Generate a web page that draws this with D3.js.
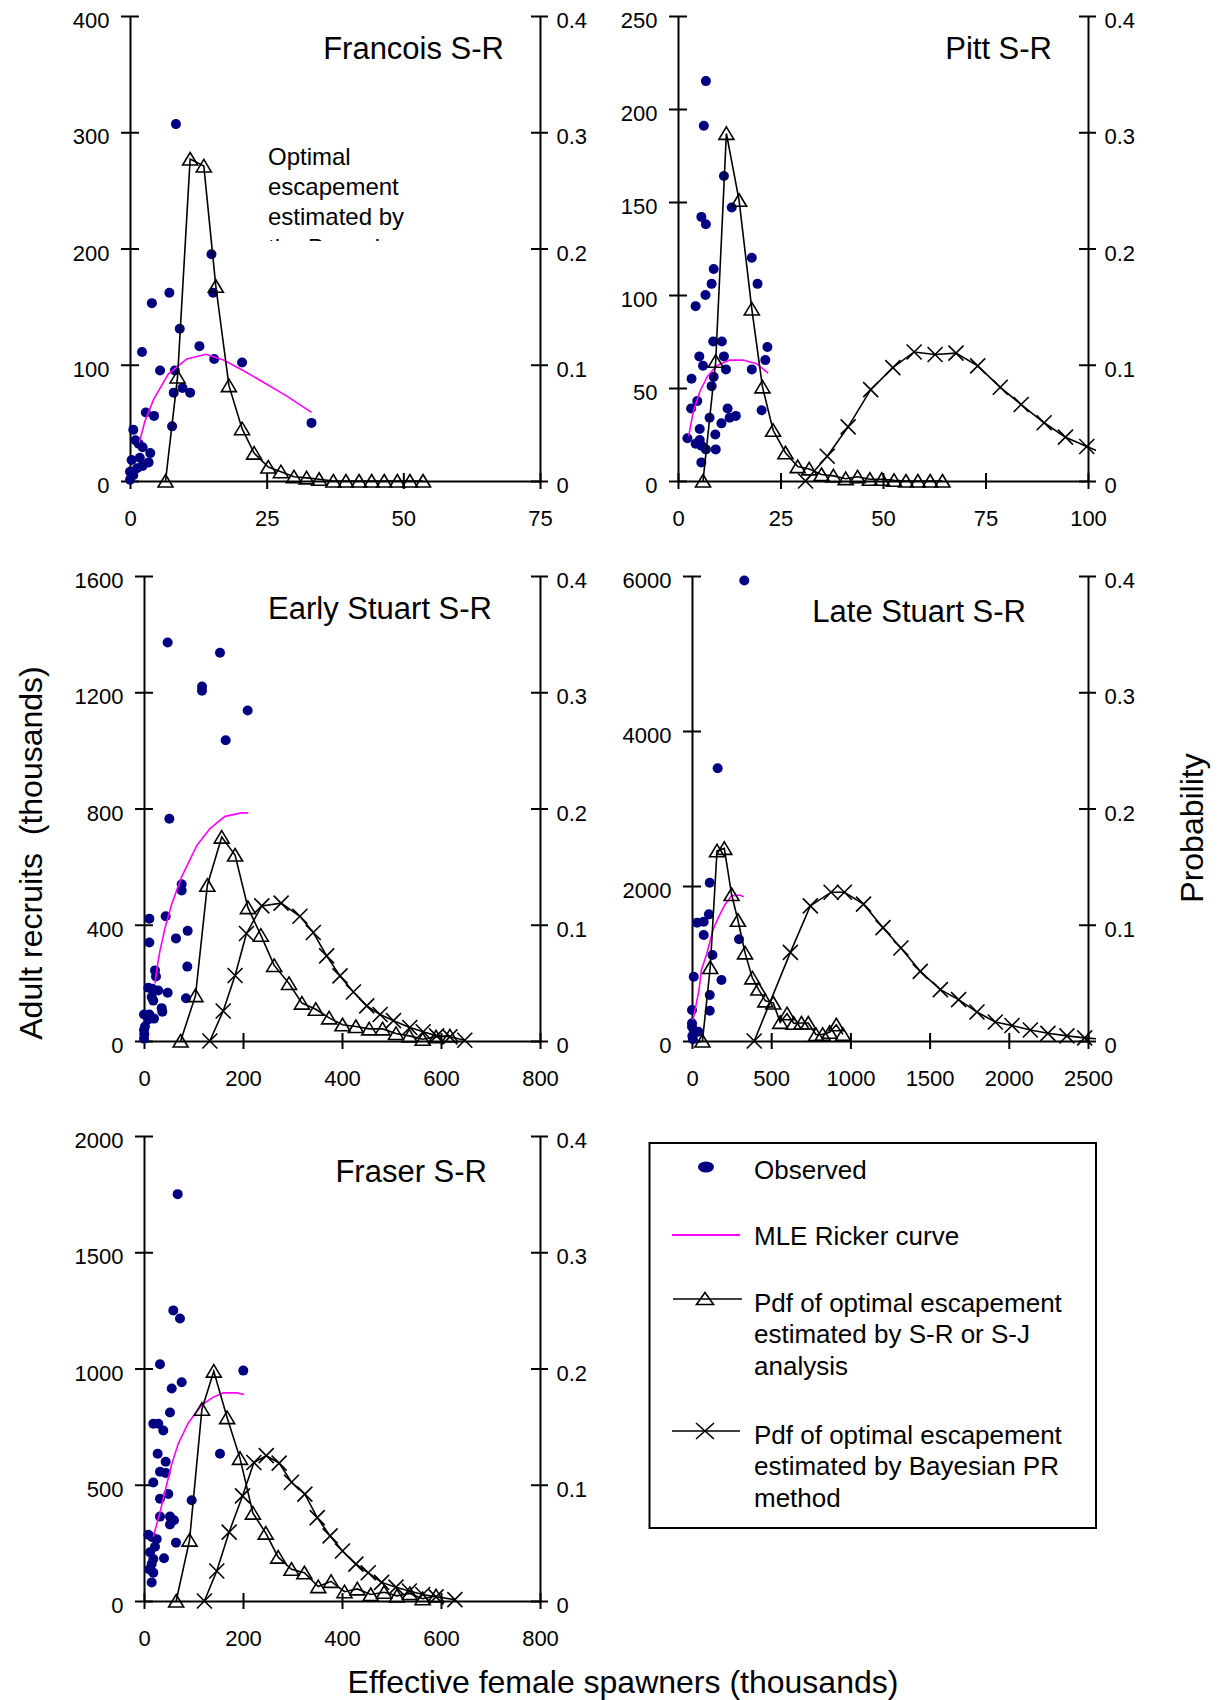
<!DOCTYPE html>
<html>
<head>
<meta charset="utf-8">
<script src="https://cdn.jsdelivr.net/npm/d3@7"></script>
<style>
  body { margin: 0; background: #fff; }
  svg { display: block; font-family: "Liberation Sans", Arial, sans-serif; }
</style>
</head>
<body>
<div id="chart"></div>
<script>
// ---- data (thousands of fish / probability) ----
const probTicks = [0, 0.1, 0.2, 0.3, 0.4];

// Francois
const francoisXTicks = [0, 25, 50, 75];
const francoisYTicks = [0, 100, 200, 300, 400];
const francoisObsS = [8.4, 4.0, 7.2, 9.1, 14.9, 15.2, 2.2, 12.7, 15.4, 20.5, 5.5, 8.2, 8.0, 9.6, 11.0, 7.7, 2.9, 4.4, 33.2, 0.6, 1.0, 1.6, 2.3, 3.7, 1.8, 0.3, 3.4, 2.3, 1.3, 0.0, 0.6, 0.0];
const francoisObsR = [307, 153, 162, 131, 195, 162, 111, 116, 105, 102, 95, 95, 76, 80, 76, 47, 59, 56, 50, 44, 35, 32, 29, 24, 20, 18, 16, 13, 11, 8, 5, 1];
const francoisRickerS = [1.7, 2.7, 4.3, 7.0, 10.4, 13.9, 17.1, 20.7, 24.4, 28.7, 33.2];
const francoisRickerR = [33, 51, 70, 92, 105, 109, 104, 95, 85, 73, 59];
const francoisSrS = [6.5, 8.7, 11.0, 13.5, 15.7, 18.1, 20.5, 22.7, 25.3, 27.6, 30.0, 32.3, 34.6, 37.2, 39.5, 41.9, 44.2, 46.5, 48.9, 51.2, 53.6];
const francoisSrP = [0, 0.0895, 0.277, 0.271, 0.1675, 0.082, 0.045, 0.024, 0.012, 0.008, 0.0036, 0.0027, 0.0015, 0, 0, 0, 0, 0, 0, 0, 0];

// Pitt
const pittXTicks = [0, 25, 50, 75, 100];
const pittYTicks = [0, 50, 100, 150, 200, 250];
const pittObsS = [6.8, 6.3, 11.2, 5.7, 6.8, 13.1, 18.0, 8.7, 8.2, 19.4, 6.7, 4.3, 8.6, 10.7, 21.8, 5.2, 11.2, 21.3, 6.1, 11.7, 18.0, 8.7, 3.3, 8.2, 4.7, 20.4, 3.2, 12.1, 7.7, 10.6, 12.6, 14.1, 5.3, 9.1, 2.3, 5.3, 4.3, 5.7, 6.8, 9.2, 5.7];
const pittObsR = [215, 191, 164, 142, 138, 147, 120, 114, 106, 106, 100, 94, 75, 75, 72, 67, 67, 65, 62, 60, 60, 56, 55, 51, 43, 38, 39, 39, 34, 31, 34, 35, 28, 25, 23, 22, 20, 19, 17, 17, 10];
const pittRickerS = [2.6, 3.7, 5.3, 7.1, 9.4, 12.6, 15.9, 19.2, 22.0];
const pittRickerR = [24, 37, 48, 56, 62, 65, 65, 63, 58];
const pittSrS = [6.1, 9.2, 11.8, 14.9, 18.0, 20.6, 23.2, 26.2, 29.2, 32.0, 35.0, 37.9, 40.9, 43.8, 46.8, 49.7, 52.7, 55.6, 58.5, 61.5, 64.5];
const pittSrP = [0, 0.103, 0.299, 0.2415, 0.148, 0.081, 0.0436, 0.0243, 0.0124, 0.0104, 0.0056, 0.0044, 0.002, 0.0036, 0.0015, 0.0015, 0.0006, 0, 0, 0, 0];
const pittBayesS = [31.1, 36.4, 41.5, 47.0, 52.4, 57.6, 62.7, 67.8, 73.1, 78.6, 83.7, 89.3, 94.5, 99.7, 104.9];
const pittBayesP = [0, 0.0213, 0.0466, 0.0786, 0.0975, 0.111, 0.1088, 0.11, 0.099, 0.0806, 0.0658, 0.0501, 0.0377, 0.0297, 0.022];

// Early Stuart
const earlyXTicks = [0, 200, 400, 600, 800];
const earlyYTicks = [0, 400, 800, 1200, 1600];
const earlyObsS = [47.8, 153.5, 117.2, 117.2, 209.4, 165, 51.2, 76.1, 76.1, 10.8, 43.8, 10.8, 64.6, 88.2, 87.5, 22.2, 24.2, 8.7, 16.8, 28.9, 47.8, 15.5, 18.8, 84.8, 0, 10.8, 35.7, 37, 20.2, 8.7, 2, 0, 0.6, 0];
const earlyObsR = [1371, 1336, 1220, 1205, 1137, 1035, 765, 539, 518, 421, 429, 339, 353, 379, 256, 243, 222, 183, 180, 174, 166, 151, 139, 147, 91, 91, 113, 101, 77, 74, 50, 38, 23, 8];
const earlyRickerS = [22.2, 26.9, 32.3, 42.4, 56, 76.1, 106.5, 133.3, 163.6, 180.5, 197.4, 210.7];
const earlyRickerR = [198, 257, 311, 388, 471, 565, 672, 731, 773, 779, 785, 785];
const earlySrS = [74, 104, 128, 157, 184, 210, 236, 263, 293, 319, 347, 374, 401, 428, 455, 482, 509, 536, 563, 590, 618];
const earlySrP = [0, 0.039, 0.134, 0.1754, 0.16, 0.1147, 0.091, 0.065, 0.0495, 0.0326, 0.0273, 0.0199, 0.014, 0.0125, 0.0104, 0.0104, 0.0065, 0.0044, 0.0015, 0.0036, 0.0044];
const earlyBayesS = [133, 160, 184, 207, 238, 277, 315, 342, 369, 396, 423, 450, 477, 504, 537, 564, 591, 618, 648];
const earlyBayesP = [0, 0.0258, 0.0563, 0.0925, 0.1162, 0.1186, 0.1073, 0.0933, 0.0732, 0.056, 0.0421, 0.0302, 0.0228, 0.0175, 0.0116, 0.008, 0.0044, 0.0036, 0.0006];

// Late Stuart
const lateXTicks = [0, 500, 1000, 1500, 2000, 2500];
const lateYTicks = [0, 2000, 4000, 6000];
const lateObsS = [330, 162, 112, 107, 32, 74, 74, 297, 129, 11, 186, 112, 112, 0, 0, 0, 13, 40, 2, 6];
const lateObsR = [5943, 3520, 2043, 1634, 1527, 1540, 1368, 1312, 1110, 830, 787, 594, 391, 400, 228, 185, 120, 120, 65, 22];
const lateRickerS = [6.3, 23.4, 44.2, 59.3, 90.9, 132.6, 164.1, 206.4, 248.7, 301, 326.4];
const lateRickerR = [271, 443, 658, 916, 1110, 1432, 1583, 1755, 1871, 1884, 1862];
const lateSrS = [66, 115, 158, 204, 250, 290, 335, 381, 419, 463, 513, 557, 600, 642, 691, 734, 783, 825, 869, 911, 953];
const lateSrP = [0, 0.0632, 0.1636, 0.1657, 0.126, 0.1039, 0.0758, 0.0543, 0.0447, 0.0345, 0.0327, 0.016, 0.0235, 0.0153, 0.0155, 0.0155, 0.0055, 0.0057, 0.0075, 0.014, 0.0057];
const lateBayesS = [393, 621, 747, 878, 962, 1083, 1206, 1319, 1441, 1568, 1683, 1799, 1915, 2020, 2136, 2247, 2367, 2479, 2600];
const lateBayesP = [0, 0.0762, 0.1162, 0.128, 0.128, 0.1177, 0.0975, 0.08, 0.0599, 0.0442, 0.0356, 0.0249, 0.0163, 0.0133, 0.0095, 0.0066, 0.0044, 0.0027, 0.0015];

// Fraser
const fraserXTicks = [0, 200, 400, 600, 800];
const fraserYTicks = [0, 500, 1000, 1500, 2000];
const fraserObsS = [68, 59.2, 72.7, 32.3, 200.6, 76.1, 56, 52.5, 18.8, 28.9, 39, 27.6, 153.5, 43.8, 32.3, 43.8, 18.8, 32.3, 49.1, 96.3, 32.3, 52.5, 60.6, 52.5, 64.6, 8.7, 16.8, 25.6, 22.2, 12.1, 40.4, 18.8, 15.5, 10.8, 18.8, 15.5];
const fraserObsR = [1750, 1250, 1215, 1018, 991, 941, 914, 811, 762, 762, 733, 633, 633, 599, 556, 551, 510, 440, 460, 433, 363, 363, 347, 329, 251, 285, 274, 266, 233, 210, 184, 181, 159, 136, 122, 80];
const fraserRickerS = [18.8, 32.3, 45.8, 56, 69.3, 89.5, 116.5, 140, 160.2, 187.3, 202];
const fraserRickerR = [277, 381, 500, 588, 677, 766, 843, 877, 895, 895, 888];
const fraserSrS = [65, 92, 117, 141, 168, 194, 220, 246, 271, 298, 324, 352, 378, 405, 431, 458, 485, 511, 537, 563, 590];
const fraserSrP = [0, 0.0524, 0.165, 0.1977, 0.1577, 0.1227, 0.0756, 0.0584, 0.0377, 0.0273, 0.0243, 0.0124, 0.0169, 0.008, 0.0104, 0.0056, 0.0075, 0.0044, 0.0065, 0.002, 0.0044];
const fraserBayesS = [122, 147, 172, 199, 222, 247, 273, 298, 325, 350, 376, 401, 428, 453, 480, 509, 536, 563, 590, 628];
const fraserBayesP = [0, 0.0258, 0.0593, 0.0904, 0.1191, 0.125, 0.1186, 0.1022, 0.0919, 0.0717, 0.056, 0.043, 0.0317, 0.0243, 0.016, 0.0119, 0.0086, 0.0056, 0.0036, 0.0012];

const legendLabels = [
    ["Observed"],
    ["MLE Ricker curve"],
    ["Pdf of optimal escapement", "estimated by S-R or S-J", "analysis"],
    ["Pdf of optimal escapement", "estimated by Bayesian PR", "method"]
];

// ---- layout ----
const W = 1222, H = 1700;
const NAVY = "#000080", MAGENTA = "#ff00ff";
const TICK_FONT = 22;

const zip = (a, b) => a.map((v, i) => [v, b[i]]);

const panels = [
    { id: "fr", title: "Francois S-R", left: 130, right: 540, top: 16, bottom: 481, titleX: 504, titleY: 59,
      xTicks: francoisXTicks, yTicks: francoisYTicks,
      obs: zip(francoisObsS, francoisObsR), ricker: zip(francoisRickerS, francoisRickerR),
      sr: zip(francoisSrS, francoisSrP), bayes: null },
    { id: "pi", title: "Pitt S-R", left: 678, right: 1088, top: 16, bottom: 481, titleX: 1052, titleY: 59,
      xTicks: pittXTicks, yTicks: pittYTicks,
      obs: zip(pittObsS, pittObsR), ricker: zip(pittRickerS, pittRickerR),
      sr: zip(pittSrS, pittSrP), bayes: zip(pittBayesS, pittBayesP) },
    { id: "es", title: "Early Stuart S-R", left: 144, right: 540, top: 576, bottom: 1041, titleX: 492, titleY: 619,
      xTicks: earlyXTicks, yTicks: earlyYTicks,
      obs: zip(earlyObsS, earlyObsR), ricker: zip(earlyRickerS, earlyRickerR),
      sr: zip(earlySrS, earlySrP), bayes: zip(earlyBayesS, earlyBayesP) },
    { id: "ls", title: "Late Stuart S-R", left: 692, right: 1088, top: 576, bottom: 1041, titleX: 1026, titleY: 622,
      xTicks: lateXTicks, yTicks: lateYTicks,
      obs: zip(lateObsS, lateObsR), ricker: zip(lateRickerS, lateRickerR),
      sr: zip(lateSrS, lateSrP), bayes: zip(lateBayesS, lateBayesP) },
    { id: "fs", title: "Fraser S-R", left: 144, right: 540, top: 1136, bottom: 1601, titleX: 487, titleY: 1182,
      xTicks: fraserXTicks, yTicks: fraserYTicks,
      obs: zip(fraserObsS, fraserObsR), ricker: zip(fraserRickerS, fraserRickerR),
      sr: zip(fraserSrS, fraserSrP), bayes: zip(fraserBayesS, fraserBayesP) }
];

const triPath = "M0,-6.5L7.5,6L-7.5,6Z";
const crossPath = "M-7.5,-7.5L7.5,7.5M-7.5,7.5L7.5,-7.5";

const svg = d3.select("#chart").append("svg")
    .attr("width", W)
    .attr("height", H)
    .attr("viewBox", `0 0 ${W} ${H}`);

svg.append("rect").attr("width", W).attr("height", H).attr("fill", "#fff");

const defs = svg.append("defs");

function styleAxis(g) {
    g.selectAll(".domain").attr("stroke", "#000").attr("stroke-width", 2);
    g.selectAll(".tick line").attr("stroke", "#000").attr("stroke-width", 2);
    g.selectAll(".tick text")
        .attr("fill", "#000")
        .attr("font-size", TICK_FONT)
        .attr("font-family", '"Liberation Sans", Arial, sans-serif');
}

function drawPanel(p) {
    const x = d3.scaleLinear().domain(d3.extent(p.xTicks)).range([p.left, p.right]);
    const y = d3.scaleLinear().domain(d3.extent(p.yTicks)).range([p.bottom, p.top]);
    const yp = d3.scaleLinear().domain(d3.extent(probTicks)).range([p.bottom, p.top]);

    const g = svg.append("g").attr("class", "panel-" + p.id);

    // clip just past the frame, lines run a little beyond the right axis
    defs.append("clipPath").attr("id", "clip-" + p.id)
        .append("rect")
        .attr("x", p.left - 10).attr("y", p.top - 10)
        .attr("width", p.right - p.left + 18).attr("height", p.bottom - p.top + 20);

    // axes (ticks cross the axis line, no thousands separator)
    const gx = g.append("g")
        .attr("transform", `translate(0,${p.bottom})`)
        .call(d3.axisBottom(x).tickValues(p.xTicks).tickFormat(d3.format("d"))
            .tickSizeInner(8).tickSizeOuter(0).tickPadding(21));
    gx.selectAll(".tick line").attr("y1", -8);
    styleAxis(gx);

    const gy = g.append("g")
        .attr("transform", `translate(${p.left},0)`)
        .call(d3.axisLeft(y).tickValues(p.yTicks).tickFormat(d3.format("d"))
            .tickSizeInner(9).tickSizeOuter(0).tickPadding(11.5));
    gy.selectAll(".tick line").attr("x1", 9);
    gy.selectAll(".tick text").attr("dy", "0.53em");
    styleAxis(gy);

    const gr = g.append("g")
        .attr("transform", `translate(${p.right},0)`)
        .call(d3.axisRight(yp).tickValues(probTicks).tickSizeInner(8).tickSizeOuter(0).tickPadding(8.5)
            .tickFormat(d => d === 0 ? "0" : d3.format(".1f")(d)));
    gr.selectAll(".tick line").attr("x1", -9);
    gr.selectAll(".tick text").attr("dy", "0.53em");
    styleAxis(gr);

    const series = g.append("g").attr("clip-path", `url(#clip-${p.id})`);

    // observed
    series.append("g").selectAll("circle")
        .data(p.obs)
        .join("circle")
        .attr("cx", d => x(d[0]))
        .attr("cy", d => y(d[1]))
        .attr("r", 5)
        .attr("fill", NAVY);

    // Ricker curve
    series.append("path")
        .datum(p.ricker)
        .attr("fill", "none")
        .attr("stroke", MAGENTA)
        .attr("stroke-width", 1.6)
        .attr("d", d3.line().x(d => x(d[0])).y(d => y(d[1])));

    const pline = d3.line().x(d => x(d[0])).y(d => yp(d[1]));

    // pdf by S-R analysis
    series.append("path")
        .datum(p.sr)
        .attr("fill", "none")
        .attr("stroke", "#000")
        .attr("stroke-width", 1.6)
        .attr("d", pline);
    series.append("g").selectAll("path")
        .data(p.sr)
        .join("path")
        .attr("d", triPath)
        .attr("transform", d => `translate(${x(d[0])},${yp(d[1])})`)
        .attr("fill", "none")
        .attr("stroke", "#000")
        .attr("stroke-width", 1.6);

    // pdf by Bayesian PR
    if (p.bayes) {
        series.append("path")
            .datum(p.bayes)
            .attr("fill", "none")
            .attr("stroke", "#000")
            .attr("stroke-width", 1.6)
            .attr("d", pline);
        series.append("g").selectAll("path")
            .data(p.bayes)
            .join("path")
            .attr("d", crossPath)
            .attr("transform", d => `translate(${x(d[0])},${yp(d[1])})`)
            .attr("fill", "none")
            .attr("stroke", "#000")
            .attr("stroke-width", 1.6);
    }

    // panel title
    g.append("text")
        .attr("x", p.titleX)
        .attr("y", p.titleY)
        .attr("text-anchor", "end")
        .attr("font-size", 31)
        .text(p.title);
}

panels.forEach(drawPanel);

// Francois note, the text box is too short so the last line is cut off
defs.append("clipPath").attr("id", "note-clip")
    .append("rect").attr("x", 260).attr("y", 135).attr("width", 200).attr("height", 106);
svg.append("text")
    .attr("clip-path", "url(#note-clip)")
    .attr("font-size", 24)
    .selectAll("tspan")
    .data(["Optimal", "escapement", "estimated by", "the Bayesian"])
    .join("tspan")
    .attr("x", 268)
    .attr("y", (d, i) => 165 + i * 30.2)
    .text(d => d);

// axis titles
svg.append("text")
    .attr("transform", "translate(42,853) rotate(-90)")
    .attr("text-anchor", "middle")
    .attr("font-size", 32)
    .style("white-space", "pre")
    .text("Adult recruits  (thousands)");

svg.append("text")
    .attr("transform", "translate(1203,828) rotate(-90)")
    .attr("text-anchor", "middle")
    .attr("font-size", 32)
    .text("Probability");

svg.append("text")
    .attr("x", 623)
    .attr("y", 1693)
    .attr("text-anchor", "middle")
    .attr("font-size", 32)
    .text("Effective female spawners (thousands)");

// legend
const lg = svg.append("g").attr("class", "legend");
lg.append("rect")
    .attr("x", 649.5).attr("y", 1143)
    .attr("width", 446.5).attr("height", 385)
    .attr("fill", "#fff").attr("stroke", "#000").attr("stroke-width", 2);

const legendRows = [1179, 1245, 1311.5, 1443.5];
const symY = [1167, 1235, 1299, 1431];

lg.append("ellipse").attr("cx", 706).attr("cy", symY[0]).attr("rx", 8).attr("ry", 5.5).attr("fill", NAVY);
lg.append("line").attr("x1", 672).attr("x2", 740).attr("y1", symY[1]).attr("y2", symY[1])
    .attr("stroke", MAGENTA).attr("stroke-width", 2);
lg.append("line").attr("x1", 673).attr("x2", 742).attr("y1", symY[2]).attr("y2", symY[2])
    .attr("stroke", "#000").attr("stroke-width", 1.6);
lg.append("path").attr("d", "M0,-6.5L8.5,5.5L-8.5,5.5Z").attr("transform", `translate(705,${symY[2]})`)
    .attr("fill", "none").attr("stroke", "#000").attr("stroke-width", 1.6);
lg.append("line").attr("x1", 672).attr("x2", 740).attr("y1", symY[3]).attr("y2", symY[3])
    .attr("stroke", "#000").attr("stroke-width", 1.6);
lg.append("path").attr("d", "M-9,-8L9,8M-9,8L9,-8").attr("transform", `translate(705,${symY[3]})`)
    .attr("fill", "none").attr("stroke", "#000").attr("stroke-width", 1.6);

legendLabels.forEach((lines, i) => {
    lg.append("text")
        .attr("font-size", 26)
        .selectAll("tspan")
        .data(lines)
        .join("tspan")
        .attr("x", 754)
        .attr("y", (d, j) => legendRows[i] + j * 31.8)
        .text(d => d);
});
</script>
</body>
</html>
